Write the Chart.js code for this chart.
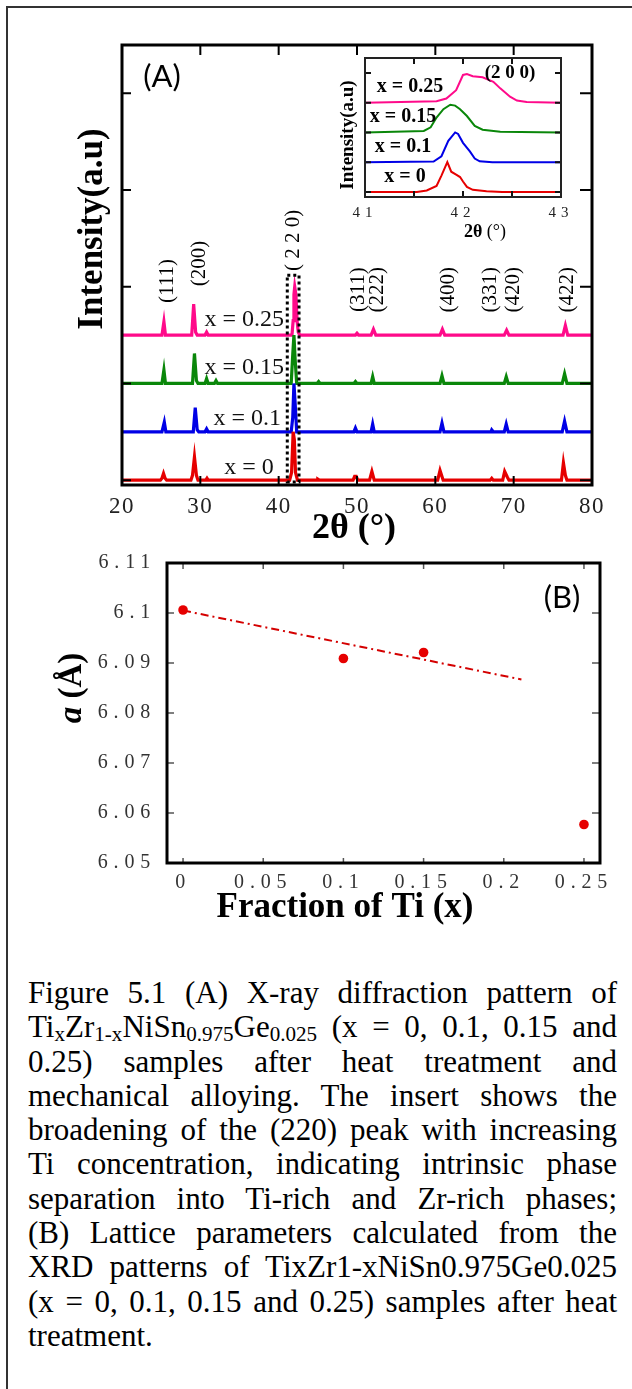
<!DOCTYPE html>
<html><head><meta charset="utf-8">
<script src="https://cdn.jsdelivr.net/npm/chart.js@4.4.1/dist/chart.umd.min.js"></script>
<style>
html,body{margin:0;padding:0;background:#fff;}
body{width:632px;height:1389px;position:relative;overflow:hidden;}
#frame{position:absolute;left:6px;top:6px;width:700px;height:1500px;border-top:2px solid #333;border-left:2px solid #333;}
canvas{position:absolute;}
#cA{left:0;top:0;}
#cI{left:330px;top:50px;}
#cB{left:0;top:540px;}
#caption{position:absolute;left:28px;top:976px;width:589px;font-family:"Liberation Serif","Times New Roman",serif;font-size:31px;color:#000;}
#caption .ln{height:34.3px;line-height:34.3px;white-space:nowrap;text-align:justify;text-align-last:justify;}
#caption .ln.last{text-align:left;text-align-last:left;}
#caption sub{font-size:0.68em;vertical-align:-0.2em;line-height:0;}
</style></head>
<body>
<div id="frame"></div>
<canvas id="cA" width="632" height="545"></canvas>
<canvas id="cI" width="260" height="195"></canvas>
<canvas id="cB" width="632" height="400"></canvas>
<div id="caption">
<div class="ln">Figure 5.1 (A) X-ray diffraction pattern of</div>
<div class="ln">Ti<sub>x</sub>Zr<sub>1-x</sub>NiSn<sub>0.975</sub>Ge<sub>0.025</sub> (x = 0, 0.1, 0.15 and</div>
<div class="ln">0.25) samples after heat treatment and</div>
<div class="ln">mechanical alloying. The insert shows the</div>
<div class="ln">broadening of the (220) peak with increasing</div>
<div class="ln">Ti concentration, indicating intrinsic phase</div>
<div class="ln">separation into Ti-rich and Zr-rich phases;</div>
<div class="ln">(B) Lattice parameters calculated from the</div>
<div class="ln">XRD patterns of TixZr1-xNiSn0.975Ge0.025</div>
<div class="ln">(x = 0, 0.1, 0.15 and 0.25) samples after heat</div>
<div class="ln last">treatment.</div>
</div>
<script>
// ---------------- DATA ----------------
// (A) XRD patterns: [2theta, intensity]
const seriesLabels = ['x = 0', 'x = 0.1', 'x = 0.15', 'x = 0.25'];
const xrd_x0 = [[20,0],[24.9,0],[25.1,0.02],[25.3,0.07],[25.5,0.02],[25.7,0],[28.8,0],[29.0,0.05],[29.25,0.24],[29.5,0.05],[29.7,0],[30.7,0],[30.85,0.02],[31.0,0],[41.4,0],[41.65,0.08],[41.85,0.5],[42.0,0.42],[42.15,0.08],[42.4,0],[44.9,0],[45.0,0.01],[45.2,0],[49.5,0],[49.7,0.04],[49.9,0.04],[50.1,0],[51.6,0],[51.9,0.09],[52.2,0],[60.3,0],[60.6,0.1],[61.0,0],[67.0,0],[67.2,0.02],[67.4,0],[68.6,0],[68.85,0.09],[69.2,0.03],[69.4,0],[76.1,0],[76.35,0.18],[76.6,0.05],[76.8,0],[80,0]];
const xrd_x01 = [[20,0],[25.1,0],[25.4,0.1],[25.6,0],[29.1,0],[29.35,0.25],[29.6,0.02],[29.8,0],[30.6,0],[30.8,0.03],[31,0],[41.6,0],[41.8,0.15],[41.95,0.5],[42.1,0.3],[42.3,0],[49.6,0],[49.8,0.04],[50.0,0],[51.8,0],[52,0.08],[52.2,0],[60.6,0],[60.85,0.09],[61.1,0],[67.1,0],[67.2,0.02],[67.4,0],[68.8,0],[69.05,0.08],[69.3,0],[76.2,0],[76.5,0.11],[76.8,0],[80,0]];
const xrd_x015 = [[20,0],[25.1,0],[25.35,0.14],[25.55,0],[29.0,0],[29.25,0.31],[29.5,0.03],[29.7,0],[30.6,0],[30.8,0.05],[31.0,0],[31.8,0],[32,0.03],[32.2,0],[41.6,0],[41.8,0.3],[41.95,0.5],[42.1,0.25],[42.3,0],[44.9,0],[45.1,0.02],[45.3,0],[49.6,0],[49.8,0.02],[50,0],[51.8,0],[52,0.07],[52.2,0],[60.6,0],[60.85,0.08],[61.1,0],[68.8,0],[69.05,0.07],[69.3,0],[76.2,0],[76.5,0.1],[76.8,0],[80,0]];
const xrd_x025 = [[20,0],[25.1,0],[25.35,0.14],[25.55,0],[28.9,0],[29.15,0.32],[29.4,0.03],[29.6,0],[30.6,0],[30.8,0.03],[31.0,0],[41.7,0],[41.85,0.15],[41.95,0.42],[42.05,0.5],[42.2,0.42],[42.35,0.15],[42.5,0.03],[42.7,0],[49.8,0],[50,0.02],[50.2,0],[51.8,0],[52.1,0.06],[52.4,0],[60.6,0],[60.9,0.06],[61.2,0],[68.8,0],[69.1,0.05],[69.4,0],[76.3,0],[76.6,0.1],[76.9,0],[80,0]];
const xrdOffsets = [0, 0.5, 1.0, 1.5];
const xTicksA = [20, 30, 40, 50, 60, 70, 80];
const yTicksA = [0, 1, 2, 3, 4];
const peakLabels = [['(111)',25.75,2.06],['(200)',29.83,2.24],['( 2 2 0)',41.84,2.48],['(311)',50.14,1.97],['(222)',52.57,1.97],['(400)',61.63,1.97],['(331)',67.0,1.97],['(420)',69.94,1.97],['(422)',76.83,1.97]];
const labelPosA = [[36.2,0.126],[36.0,0.64],[35.6,1.16],[35.6,1.656]];
const boxRange = [41.1, 42.6, -0.02, 2.12];

// inset: (220) peak region
const ins_x0 = [[41,0],[41.53,0],[41.63,0.05],[41.73,0.2],[41.78,0.55],[41.84,1.0],[41.88,0.68],[41.93,0.58],[41.97,0.5],[42.0,0.35],[42.04,0.17],[42.1,0.07],[42.24,0.02],[42.4,0],[43,0]];
const ins_x01 = [[41,0],[41.7,0.02],[41.78,0.2],[41.85,0.72],[41.92,1.0],[41.95,0.95],[42.0,0.65],[42.07,0.36],[42.12,0.12],[42.17,0.03],[42.3,0],[43,0]];
const ins_x015 = [[41,0],[41.6,0.05],[41.67,0.17],[41.73,0.5],[41.8,0.78],[41.87,0.93],[41.92,0.9],[41.97,0.78],[42.04,0.55],[42.12,0.22],[42.2,0.09],[42.38,0.02],[43,0]];
const ins_x025 = [[41,0],[41.73,0.05],[41.83,0.14],[41.93,0.42],[42.0,0.93],[42.04,0.96],[42.1,0.89],[42.2,0.85],[42.31,0.7],[42.38,0.48],[42.48,0.2],[42.55,0.07],[42.65,0.02],[43,0]];
const insOffsets = [0, 1, 2, 3];
const xTicksIns = [41.5, 42, 42.5];
const yTicksIns = [0, 1, 2, 3, 4];

// (B) lattice parameter
const tiFraction = [0, 0.1, 0.15, 0.25];
const latticeA = [6.1006, 6.0909, 6.0921, 6.0577];
const trendX = [0, 0.211];
const trendY = [6.1005, 6.0867];
const xTicksB = [0, 0.05, 0.1, 0.15, 0.2, 0.25];
const yTicksB = [6.05, 6.06, 6.07, 6.08, 6.09, 6.1, 6.11];

// ---------------- STYLE ----------------
const SERIF = '"Liberation Serif","Times New Roman",serif';
const colors = ['#e60000', '#0000e6', '#0a870a', '#ff0a8a'];

function T(ctx, s, x, y, o){
  ctx.save();
  ctx.font = o.font; ctx.fillStyle = o.color || '#000';
  ctx.letterSpacing = (o.ls || 0) + 'px';
  ctx.textAlign = o.align || 'center'; ctx.textBaseline = 'middle';
  ctx.translate(x, y); if (o.rot) ctx.rotate(o.rot);
  ctx.fillText(s, 0, 0);
  ctx.restore();
}
function R(ctx, segs, x, y, rot){
  ctx.save(); ctx.translate(x, y); if (rot) ctx.rotate(rot);
  ctx.textBaseline = 'middle'; ctx.textAlign = 'left'; ctx.fillStyle = '#000'; ctx.letterSpacing = '0px';
  let w = 0; segs.forEach(g => { ctx.font = g.font; g.w = ctx.measureText(g.s).width; w += g.w; });
  let cx = -w / 2; segs.forEach(g => { ctx.font = g.font; ctx.fillText(g.s, cx, 0); cx += g.w; });
  ctx.restore();
}
function frameAndTicks(chart, o){
  const ctx = chart.ctx, a = chart.chartArea, xs = chart.scales.x, ys = chart.scales.y;
  ctx.save();
  ctx.strokeStyle = o.tickColor; ctx.lineWidth = o.tickW; ctx.beginPath();
  o.xt.forEach(v => { const p = xs.getPixelForValue(v);
    ctx.moveTo(p, a.bottom); ctx.lineTo(p, a.bottom - o.lenB);
    ctx.moveTo(p, a.top); ctx.lineTo(p, a.top + o.lenT); });
  o.yt.forEach(v => { const p = ys.getPixelForValue(v);
    ctx.moveTo(a.left, p); ctx.lineTo(a.left + o.lenL, p);
    ctx.moveTo(a.right, p); ctx.lineTo(a.right - o.lenR, p); });
  ctx.stroke();
  ctx.strokeStyle = o.frameColor; ctx.lineWidth = o.frameW;
  ctx.strokeRect(a.left, a.top, a.right - a.left, a.bottom - a.top);
  ctx.restore();
}
function spacing(px){
  return { id: 'ls' + String(px).replace('.', '_'),
    beforeDraw(c){ c.ctx.letterSpacing = px + 'px'; },
    beforeDatasetsDraw(c){ c.ctx.letterSpacing = '0px'; } };
}
const fixedX = h => (s => { s.height = h; });
const fixedY = w => (s => { s.width = w; });

// ---------------- CHART A ----------------
const xrdSeries = [xrd_x0, xrd_x01, xrd_x015, xrd_x025];
new Chart(document.getElementById('cA'), {
  type: 'line',
  data: { datasets: xrdSeries.map((s, i) => ({
    label: seriesLabels[i],
    data: s.map(p => ({ x: p[0], y: p[1] + xrdOffsets[i] })),
    borderColor: colors[i], borderWidth: 3.2, pointRadius: 0, fill: false, tension: 0 })) },
  options: {
    responsive: false, animation: false, devicePixelRatio: 1,
    layout: { padding: { left: 22, right: 40, top: 45, bottom: 0 } },
    plugins: { legend: { display: false }, tooltip: { enabled: false } },
    scales: {
      x: { type: 'linear', min: 20, max: 80, grid: { display: false, drawTicks: false }, border: { display: false },
        afterBuildTicks: s => { s.ticks = xTicksA.map(v => ({ value: v })); },
        ticks: { autoSkip: false, maxRotation: 0, font: { family: SERIF, size: 23 }, color: '#222', padding: 8 },
        afterFit: fixedX(60) },
      y: { min: -0.05, max: 4.5, grid: { display: false, drawTicks: false }, border: { display: false },
        ticks: { display: false }, afterFit: fixedY(100) }
    }
  },
  plugins: [spacing(1.5), { id: 'decoA', afterDraw(c){
    const ctx = c.ctx, xs = c.scales.x, ys = c.scales.y;
    frameAndTicks(c, { xt: xTicksA.slice(1, -1), yt: yTicksA, lenB: 9, lenT: 10, lenL: 9, lenR: 12, tickW: 2, tickColor: '#000', frameW: 3, frameColor: '#000' });
    // dotted box around (220)
    ctx.save(); ctx.setLineDash([3, 3]); ctx.lineWidth = 3; ctx.strokeStyle = '#000';
    const bx0 = xs.getPixelForValue(boxRange[0]), bx1 = xs.getPixelForValue(boxRange[1]);
    const by0 = ys.getPixelForValue(boxRange[2]), by1 = ys.getPixelForValue(boxRange[3]);
    ctx.strokeRect(bx0, by1, bx1 - bx0, by0 - by1); ctx.restore();
    peakLabels.forEach(p => T(ctx, p[0], xs.getPixelForValue(p[1]), ys.getPixelForValue(p[2]), { font: '21px ' + SERIF, rot: -Math.PI / 2 }));
    labelPosA.forEach((p, i) => T(ctx, seriesLabels[i], xs.getPixelForValue(p[0]), ys.getPixelForValue(p[1]), { font: '24px ' + SERIF, color: '#111' }));
    T(ctx, '(A)', 162, 77, { font: '31px Lato' });
    T(ctx, 'Intensity(a.u)', 93, 229, { font: 'bold 35px ' + SERIF, rot: -Math.PI / 2 });
    T(ctx, '2θ (°)', 354, 529, { font: 'bold 36px ' + SERIF });
  } }]
});

// ---------------- INSET ----------------
const insSeries = [ins_x0, ins_x01, ins_x015, ins_x025];
new Chart(document.getElementById('cI'), {
  type: 'line',
  data: { datasets: insSeries.map((s, i) => ({
    label: seriesLabels[i],
    data: s.map(p => ({ x: p[0], y: p[1] + insOffsets[i] })),
    borderColor: colors[i], borderWidth: 2, pointRadius: 0, fill: false, tension: 0 })) },
  options: {
    responsive: false, animation: false, devicePixelRatio: 1,
    layout: { padding: { left: 5, right: 29, top: 8, bottom: 0 } },
    plugins: { legend: { display: false }, tooltip: { enabled: false } },
    scales: {
      x: { type: 'linear', min: 41, max: 43, grid: { display: false, drawTicks: false }, border: { display: false },
        ticks: { stepSize: 1, autoSkip: false, maxRotation: 0, font: { family: SERIF, size: 15 }, color: '#222', padding: 7 },
        afterFit: fixedX(48) },
      y: { min: -0.17, max: 4.5, grid: { display: false, drawTicks: false }, border: { display: false },
        ticks: { display: false }, afterFit: fixedY(30) }
    }
  },
  plugins: [spacing(5), { id: 'bgI', beforeDraw(c){ const a = c.chartArea; c.ctx.save(); c.ctx.fillStyle = '#fff'; c.ctx.fillRect(a.left, a.top, a.right - a.left, a.bottom - a.top); c.ctx.restore(); } },
  { id: 'decoI', afterDraw(c){
    const ctx = c.ctx;
    frameAndTicks(c, { xt: xTicksIns, yt: yTicksIns, lenB: 6, lenT: 6, lenL: 6, lenR: 6, tickW: 2, tickColor: '#111', frameW: 2, frameColor: '#222' });
    const L = [[75, 127], [73, 97], [73, 67], [80, 37]];
    L.forEach((p, i) => T(ctx, seriesLabels[i], p[0], p[1], { font: 'bold 20px ' + SERIF }));
    T(ctx, '(2 0 0)', 180, 23, { font: 'bold 19px ' + SERIF });
    T(ctx, 'Intensity(a.u)', 18, 85, { font: 'bold 19px ' + SERIF, rot: -Math.PI / 2 });
    R(ctx, [{ s: '2θ', font: 'bold 18px ' + SERIF }, { s: ' (°)', font: '18px ' + SERIF }], 155, 182, 0);
  } }]
});

// ---------------- CHART B ----------------
new Chart(document.getElementById('cB'), {
  type: 'scatter',
  data: { datasets: [
    { label: 'a', data: tiFraction.map((x, i) => ({ x, y: latticeA[i] })), backgroundColor: '#e60000', borderColor: '#e60000', pointRadius: 4.8, pointBorderWidth: 0, showLine: false },
    { label: 'fit', data: trendX.map((x, i) => ({ x, y: trendY[i] })), borderColor: '#d40000', borderWidth: 2, borderDash: [8, 4, 2, 4], pointRadius: 0, showLine: true }
  ] },
  options: {
    responsive: false, animation: false, devicePixelRatio: 1,
    layout: { padding: { left: 20, right: 32, top: 19, bottom: 0 } },
    plugins: { legend: { display: false }, tooltip: { enabled: false } },
    scales: {
      x: { type: 'linear', min: -0.01, max: 0.26, grid: { display: false, drawTicks: false }, border: { display: false },
        afterBuildTicks: s => { s.ticks = xTicksB.map(v => ({ value: v })); },
        ticks: { autoSkip: false, maxRotation: 0, font: { family: SERIF, size: 20 }, color: '#333', padding: 8,
          callback: v => String(Math.round(v * 100) / 100) },
        afterFit: fixedX(77) },
      y: { min: 6.05, max: 6.11, grid: { display: false, drawTicks: false }, border: { display: false },
        afterBuildTicks: s => { s.ticks = yTicksB.map(v => ({ value: v })); },
        ticks: { autoSkip: false, font: { family: SERIF, size: 20 }, color: '#333', padding: 11,
          callback: v => String(Math.round(v * 100) / 100) },
        afterFit: fixedY(147) }
    }
  },
  plugins: [spacing(5.8), { id: 'decoB', afterDraw(c){
    const ctx = c.ctx;
    frameAndTicks(c, { xt: xTicksB, yt: yTicksB.slice(1, -1), lenB: 5, lenT: 6, lenL: 7, lenR: 8, tickW: 1.5, tickColor: '#555', frameW: 3, frameColor: '#000' });
    T(ctx, '(B)', 562, 58, { font: '31px Lato' });
    R(ctx, [{ s: 'a', font: 'italic bold 33px ' + SERIF }, { s: ' (Å)', font: 'bold 33px ' + SERIF }], 72, 148, -Math.PI / 2);
    T(ctx, 'Fraction of Ti (x)', 345, 368, { font: 'bold 35px ' + SERIF });
  } }]
});
</script>
</body></html>
